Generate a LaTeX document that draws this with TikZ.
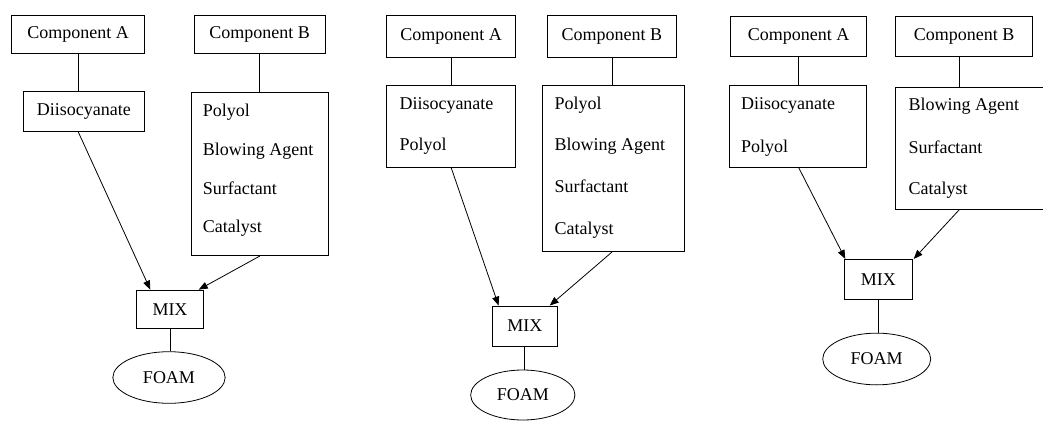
\documentclass[tikz,border=0pt]{standalone}
\usepackage{fontspec}
\setmainfont{Liberation Serif}
\usetikzlibrary{arrows.meta,calc,shapes.geometric}
\begin{document}
\begin{tikzpicture}[x=1pt,y=-1pt,
  txt/.style={font=\fontsize{18}{22}\selectfont},
  box/.style={draw, line width=0.8pt, inner sep=0pt, txt},
  item/.style={anchor=base west, inner sep=0pt, txt},
  foam/.style={ellipse, draw, line width=0.8pt, inner sep=0pt, txt},
  link/.style={line width=0.8pt},
  arr/.style={link, -{Triangle[length=9pt,width=7pt]}}]
\useasboundingbox (0,0) rectangle (1043,423);
\clip (0,0) rectangle (1043,423);
\fill[white] (0,0) rectangle (1043,423);

% ---------- Panel 1 ----------
\node[box, minimum width=132.6pt, minimum height=38.3pt] (A1) at (78,34.2) {Component A};
\node[box, minimum width=130.7pt, minimum height=38.3pt] (B1) at (259.7,34.2) {Component B};
\node[box, minimum width=121pt, minimum height=39.3pt] (D1) at (83.8,111.3) {Diisocyanate};
\node[box, minimum width=137.3pt, minimum height=163pt] (L1) at (259.7,174.2) {};
\node[item] (L1a) at (202.7,116.5) {Polyol};
\node[item] (L1b) at (202.7,155.5) {Blowing Agent};
\node[item] (L1c) at (202.7,194.2) {Surfactant};
\node[item] (L1d) at (202.7,232.2) {Catalyst};
\node[box, minimum width=66.6pt, minimum height=38.3pt] (M1) at (170,309.2) {MIX};
\node[foam, minimum width=112.3pt, minimum height=51.6pt] (F1) at (169,377.5) {FOAM};
\draw[link] (A1.south) -- (A1.south |- D1.north);
\draw[link] (B1.south) -- (B1.south |- L1.north);
\draw[arr] (A1.south |- D1.south) -- ([xshift=14pt]M1.north west);
\draw[arr] (B1.south |- L1.south) -- ([xshift=-5pt]M1.north east);
\draw[link] (M1.south) -- (M1.south |- F1.north);

% ---------- Panel 2 ----------
\node[box, minimum width=129pt, minimum height=42.7pt] (A2) at (451.2,36.3) {Component A};
\node[box, minimum width=128.3pt, minimum height=42.7pt] (B2) at (611.9,36.3) {Component B};
\node[box, minimum width=129pt, minimum height=82.3pt] (D2) at (451.2,126.2) {};
\node[item] (D2a) at (399.3,109.8) {Diisocyanate};
\node[item] (D2b) at (399.3,150.5) {Polyol};
\node[box, minimum width=142pt, minimum height=166pt] (L2) at (613.3,168.7) {};
\node[item] (L2a) at (554.3,109.8) {Polyol};
\node[item] (L2b) at (554.3,150.5) {Blowing Agent};
\node[item] (L2c) at (554.3,192.2) {Surfactant};
\node[item] (L2d) at (554.3,234.2) {Catalyst};
\node[box, minimum width=65pt, minimum height=40pt] (M2) at (524.8,326) {MIX};
\node[foam, minimum width=104.3pt, minimum height=50pt] (F2) at (522.8,395) {FOAM};
\draw[link] (A2.south) -- (A2.south |- D2.north);
\draw[link] (B2.south) -- (B2.south |- L2.north);
\draw[arr] (A2.south |- D2.south) -- ([xshift=6.7pt]M2.north west);
\draw[arr] (B2.south |- L2.south) -- ([xshift=-8pt]M2.north east);
\draw[link] (M2.south) -- (M2.south |- F2.north);

% ---------- Panel 3 ----------
\node[box, minimum width=136pt, minimum height=39.3pt] (A3) at (798.7,36.3) {Component A};
\node[box, minimum width=136.6pt, minimum height=39.3pt] (B3) at (964,36.3) {Component B};
\node[box, minimum width=137.4pt, minimum height=81.6pt] (D3) at (798,126.5) {};
\node[item] (D3a) at (741,109.8) {Diisocyanate};
\node[item] (D3b) at (741,152.2) {Polyol};
\node[box, minimum width=154.3pt, minimum height=122pt] (L3) at (972.85,148.3) {};
\node[item] (L3a) at (908.3,110.8) {Blowing Agent};
\node[item] (L3b) at (908.3,153.2) {Surfactant};
\node[item] (L3c) at (908.3,194.2) {Catalyst};
\node[box, minimum width=68pt, minimum height=39.7pt] (M3) at (878.3,279.2) {MIX};
\node[foam, minimum width=108pt, minimum height=51.7pt] (F3) at (876.7,359) {FOAM};
\coordinate (b3) at ([xshift=-4.7pt]B3.south);
\draw[link] (A3.south) -- (A3.south |- D3.north);
\draw[link] (b3) -- (b3 |- L3.north);
\draw[arr] (A3.south |- D3.south) -- ([xshift=1.4pt]M3.north west);
\draw[arr] (b3 |- L3.south) -- ([xshift=1pt]M3.north east);
\draw[link] (M3.south) -- (M3.south |- F3.north);
\end{tikzpicture}
\end{document}
